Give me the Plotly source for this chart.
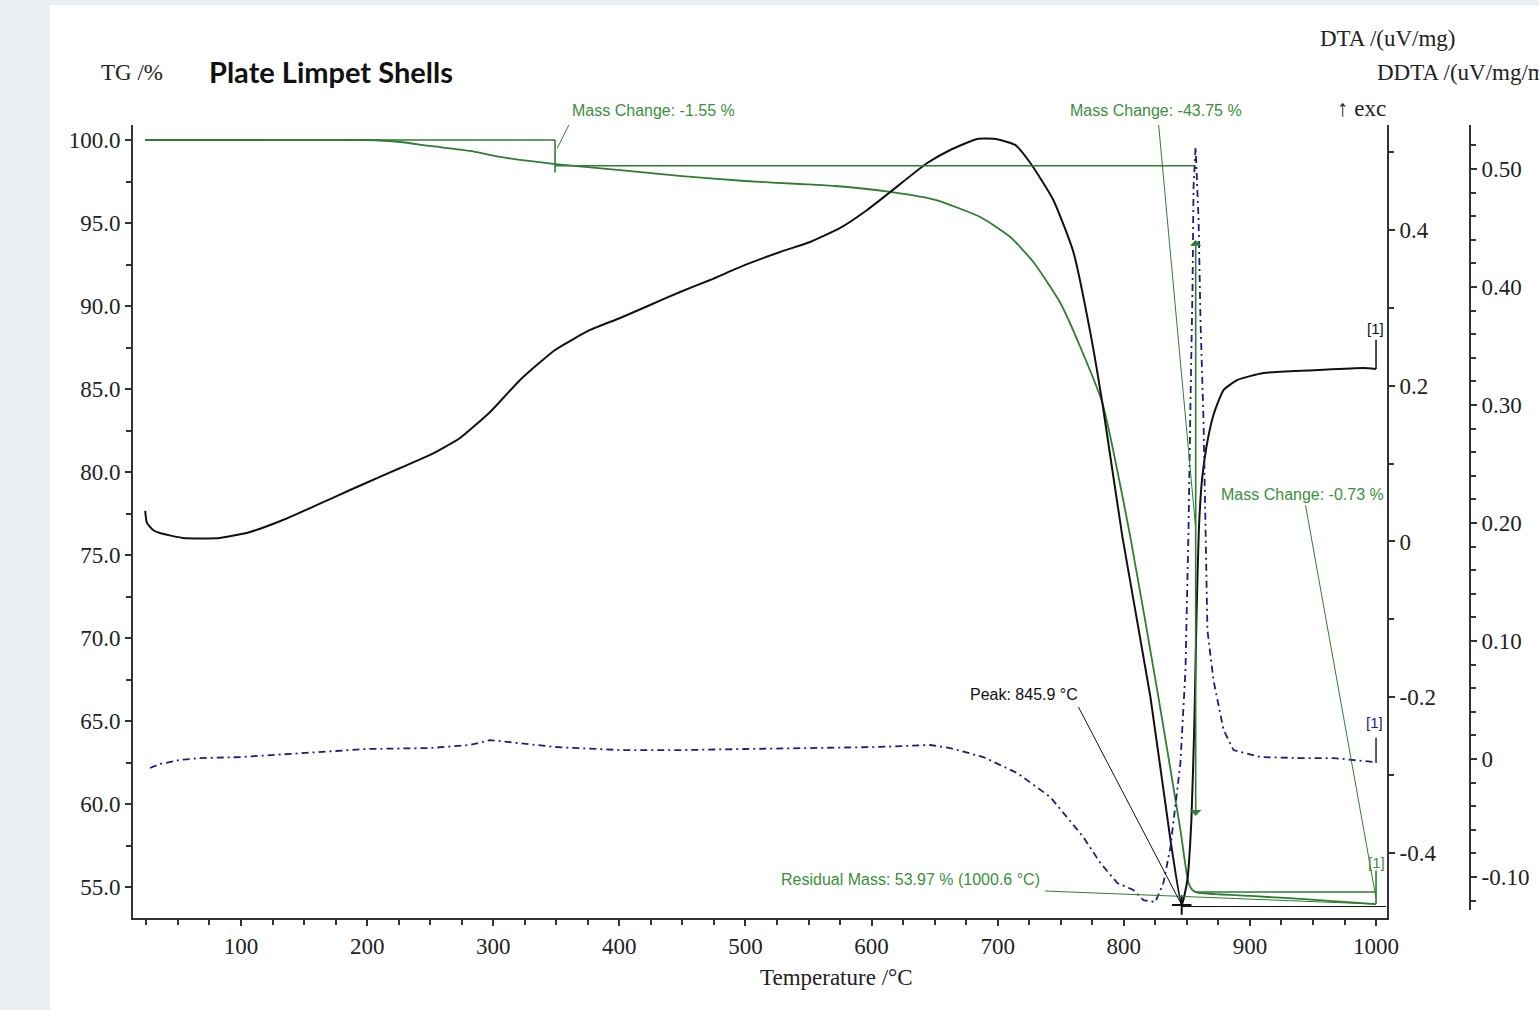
import plotly.graph_objects as go

# ---------------- data ----------------
tg_temp = [24.0, 100.0, 199.1, 226.2, 249.9, 281.6, 305.4, 349.0, 400.6, 449.8, 499.8,
           543.4, 571.2, 614.8, 650.5, 686.2, 710.0, 728.3, 749.7, 765.5, 783.0, 805.2,
           827.4, 844.9, 851.3, 854.5, 858.4, 900.5, 940.2, 1000.0]
tg_mass = [100.0, 100.0, 100.0, 99.88, 99.64, 99.34, 98.98, 98.55, 98.19, 97.83, 97.53,
           97.35, 97.23, 96.87, 96.39, 95.36, 94.16, 92.65, 90.18, 87.53, 84.16, 76.08,
           66.45, 58.43, 55.24, 54.82, 54.66, 54.46, 54.28, 53.97]

dta_temp = [24.0, 25.4, 30.2, 35.7, 54.0, 83.3, 107.1, 133.3, 160.3, 186.5, 199.1, 226.2,
            249.9, 273.7, 297.5, 321.3, 349.0, 376.8, 400.6, 424.4, 448.2, 472.0, 499.8,
            527.5, 551.3, 575.1, 596.5, 614.8, 644.1, 662.4, 683.8, 698.1, 713.9, 725.9,
            744.1, 760.0, 773.5, 783.0, 798.9, 821.1, 837.0, 845.9, 850.4, 853.6, 856.0,
            857.6, 859.5, 862.0, 865.5, 871.1, 879.1, 890.2, 910.8, 953.7, 990.2, 1000.0]
dta_val = [0.0392, 0.0238, 0.0148, 0.0109, 0.0045, 0.0045, 0.0122, 0.0276, 0.0469, 0.0661,
           0.0751, 0.0944, 0.1111, 0.1329, 0.1663, 0.2074, 0.2459, 0.2716, 0.2870, 0.3037,
           0.3204, 0.3358, 0.3551, 0.3718, 0.3846, 0.4026, 0.4257, 0.4488, 0.4860, 0.5027,
           0.5168, 0.5168, 0.5092, 0.4860, 0.4385, 0.3718, 0.2678, 0.1778, 0.0058, -0.1997,
           -0.3833, -0.4668, -0.4347, -0.3576, -0.2292, -0.1008, 0.0148, 0.0790, 0.1213,
           0.1624, 0.1945, 0.2074, 0.2164, 0.2202, 0.2228, 0.2215]

ddta_temp = [27.8, 35.7, 51.6, 67.5, 100.0, 146.8, 199.1, 249.9, 281.6, 297.5, 313.4, 349.0,
             400.6, 448.2, 499.8, 543.4, 604.5, 646.6, 662.4, 688.6, 715.6, 741.7, 767.9,
             781.4, 794.9, 807.6, 815.5, 825.0, 831.4, 837.0, 844.9, 848.9, 851.3, 852.9,
             854.5, 855.3, 856.9, 859.3, 860.8, 863.2, 864.8, 866.3, 871.1, 879.1, 887.0,
             908.4, 940.2, 966.4, 998.1, 1000.0]
ddta_val = [-0.0076, -0.0042, -0.0008, 0.0008, 0.0017, 0.0051, 0.0085, 0.0093, 0.0119, 0.0161,
            0.0144, 0.0102, 0.0076, 0.0076, 0.0085, 0.0093, 0.0102, 0.0119, 0.0093, 0.0017,
            -0.0119, -0.0322, -0.0661, -0.0881, -0.1051, -0.1110, -0.1195, -0.1212, -0.1051,
            -0.0746, -0.0034, 0.0754, 0.1941, 0.3042, 0.4000, 0.4847, 0.5186, 0.4568, 0.3720,
            0.2873, 0.1881, 0.1093, 0.0669, 0.0246, 0.0076, 0.0017, 0.0008, 0.0008, -0.0025,
            -0.0034]

x_ticks = [100, 200, 300, 400, 500, 600, 700, 800, 900, 1000]
tg_ticks = [55.0, 60.0, 65.0, 70.0, 75.0, 80.0, 85.0, 90.0, 95.0, 100.0]
dta_ticks = [-0.4, -0.2, 0.0, 0.2, 0.4]
dta_ticktext = ["-0.4", "-0.2", "0", "0.2", "0.4"]
ddta_ticks = [-0.1, 0.0, 0.1, 0.2, 0.3, 0.4, 0.5]
ddta_ticktext = ["-0.10", "0", "0.10", "0.20", "0.30", "0.40", "0.50"]

# evaluation values
mass_changes = [-1.55, -43.75, -0.73]
step_temps = [349.0, 857.0, 1000.0]
start_temp = 24.0
residual_mass = 53.97
peak_temp = 845.9

# ---------------- layout geometry ----------------
W, H = 1539, 1010
ML, MR, MT, MB = 133, 69, 125, 92
PW = W - ML - MR
PH = H - MT - MB


def px(x):
    return (x - ML) / PW


def py(y):
    return (MT + PH - y) / PH


GREEN = "#2f7d32"
GREEN_TXT = "#3a8f3a"
BLUE = "#1c1c86"
AX = "#333333"
SERIF = "Liberation Serif, Times New Roman, serif"
SANS = "Liberation Sans, Arial, sans-serif"

fig = go.Figure()

fig.add_trace(go.Scatter(x=tg_temp, y=tg_mass, mode="lines", yaxis="y",
                         line=dict(color=GREEN, width=1.8, shape="spline", smoothing=0.5),
                         hoverinfo="skip"))
fig.add_trace(go.Scatter(x=dta_temp, y=dta_val, mode="lines", yaxis="y2",
                         line=dict(color="#111111", width=2, shape="spline", smoothing=0.5),
                         hoverinfo="skip"))
fig.add_trace(go.Scatter(x=ddta_temp, y=ddta_val, mode="lines", yaxis="y3",
                         line=dict(color=BLUE, width=1.8, dash="7px,4px,2px,4px"),
                         hoverinfo="skip"))
peak_val = dta_val[dta_temp.index(peak_temp)]
fig.add_trace(go.Scatter(x=[peak_temp], y=[peak_val], mode="markers", yaxis="y2",
                         marker=dict(symbol="cross-thin", size=14,
                                     line=dict(color="#111111", width=2)),
                         hoverinfo="skip"))

# mass change step levels
lvl0 = 100.0
lvl1 = lvl0 + mass_changes[0]
lvl2 = lvl1 + mass_changes[1]
lvl3 = lvl2 + mass_changes[2]

shapes = []
# white page area over light background
shapes.append(dict(type="rect", xref="paper", yref="paper", x0=px(50), x1=px(1545),
                   y0=py(1015), y1=py(5), fillcolor="white", line=dict(width=0),
                   layer="below"))


def seg(x0, y0, x1, y1, yref="y", color=GREEN, width=1.6):
    shapes.append(dict(type="line", xref="x", yref=yref, x0=x0, y0=y0, x1=x1, y1=y1,
                       line=dict(color=color, width=width)))


seg(start_temp, lvl0, step_temps[0], lvl0)
seg(step_temps[0], lvl0, step_temps[0], lvl1 - 0.4)
seg(step_temps[0], lvl1, step_temps[1], lvl1)
seg(step_temps[1], lvl2, step_temps[2], lvl2)
seg(step_temps[2], 56.0, step_temps[2], lvl3)
# leader lines
seg(362.6, 101.3, 350.7, 99.5, width=1)
seg(827.4, 101.1, step_temps[1], 76.6, width=1)
seg(944.1, 78.0, step_temps[2], (lvl2 + lvl3) / 2, width=1)
seg(737.5, 54.76, step_temps[2], residual_mass, width=1)
seg(764.0, -0.2125, peak_temp, peak_val, yref="y2", color="#111111", width=1)
seg(peak_temp, peak_val - 0.002, 1008, peak_val - 0.002, yref="y2", color="#111111", width=1)
# end markers [1]
seg(1000, dta_val[-1], 1000, 0.259, yref="y2", color="#111111", width=1.5)
seg(1000, ddta_val[-1], 1000, 0.018, yref="y3", color=BLUE, width=1.5)
# DDTA axis line
shapes.append(dict(type="line", xref="paper", yref="y3", x0=1.0, x1=1.0, y0=-0.128,
                   y1=0.5373, line=dict(color=AX, width=2)))

ann = []


def text(x, y, s, size=23, family=SERIF, color="#222222", xanchor="left", weight=None):
    f = dict(size=size, family=family, color=color)
    if weight:
        f["weight"] = weight
    ann.append(dict(x=px(x), y=py(y), xref="paper", yref="paper", text=s, showarrow=False,
                    xanchor=xanchor, yanchor="middle", font=f))


text(132, 73, "TG /%", xanchor="center")
text(207, 72, "Plate Limpet Shells", size=29, family="Lato, Open Sans, sans-serif",
     color="#111111", weight="bold")
text(1318, 38, "DTA /(uV/mg)")
text(1375, 73, "DDTA /(uV/mg/min)")
text(1335, 108, "↑ exc")
text(836, 978, "Temperature /°C", xanchor="center")
text(570, 111, "Mass Change: -1.55 %", size=16, family=SANS, color=GREEN_TXT)
text(1068, 111, "Mass Change: -43.75 %", size=16, family=SANS, color=GREEN_TXT)
text(1219, 495, "Mass Change: -0.73 %", size=16, family=SANS, color=GREEN_TXT)
text(779, 879, "Residual Mass: 53.97 % (1000.6 °C)", size=16, family=SANS, color=GREEN_TXT)
text(968, 694, "Peak: 845.9 °C", size=16, family=SANS, color="#111111")
text(1375, 328, "[1]", size=15, family=SANS, color="#111111", xanchor="center")
text(1374, 722, "[1]", size=15, family=SANS, color=BLUE, xanchor="center")
text(1376, 862, "[1]", size=15, family=SANS, color=GREEN_TXT, xanchor="center")

# double arrow of the main mass change
ann.append(dict(x=step_temps[1], y=93.98, ax=step_temps[1], ay=59.2, xref="x", yref="y",
                axref="x", ayref="y", text="", showarrow=True, arrowhead=1,
                arrowside="end+start", arrowsize=1.2, arrowwidth=1.6, arrowcolor=GREEN))

x_minor = [v for v in range(25, 1001, 25) if v % 100 != 0]
tg_minor = [57.5 + 5 * i for i in range(9)]
dta_minor = [-0.3, -0.1, 0.1, 0.3, 0.5]
ddta_minor = [round(-0.12 + 0.02 * i, 2) for i in range(33)]
ddta_minor = [v for v in ddta_minor if abs(round(v * 10) - v * 10) > 1e-6]

tickfont = dict(family=SERIF, size=23, color="#222222")

fig.update_layout(
    width=W, height=H,
    margin=dict(l=ML, r=MR, t=MT, b=MB, autoexpand=False),
    paper_bgcolor="#ebeff4",
    plot_bgcolor="white",
    showlegend=False,
    shapes=shapes,
    annotations=ann,
    xaxis=dict(domain=[0, (1387 - ML) / PW], range=[14.35, 1008.7],
               tickmode="array", tickvals=x_ticks, ticktext=[str(v) for v in x_ticks],
               ticks="outside", ticklen=6, tickwidth=1.5, tickcolor=AX,
               showline=True, linecolor=AX, linewidth=2, showgrid=False, zeroline=False,
               tickfont=tickfont,
               minor=dict(tickmode="array", tickvals=x_minor, ticks="outside", ticklen=5,
                          tickwidth=1.5, tickcolor=AX, showgrid=False)),
    yaxis=dict(range=[53.133, 100.904], tickmode="array", tickvals=tg_ticks,
               ticktext=[f"{v:.1f}" for v in tg_ticks],
               ticks="outside", ticklen=6, tickwidth=1.5, tickcolor=AX,
               showline=True, linecolor=AX, linewidth=2, showgrid=False, zeroline=False,
               tickfont=tickfont,
               minor=dict(tickmode="array", tickvals=tg_minor, ticks="outside", ticklen=5,
                          tickwidth=1.5, tickcolor=AX, showgrid=False)),
    yaxis2=dict(overlaying="y", side="right", anchor="x", range=[-0.4835, 0.5348],
                tickmode="array", tickvals=dta_ticks, ticktext=dta_ticktext,
                ticks="outside", ticklen=6, tickwidth=1.5, tickcolor=AX,
                showline=True, linecolor=AX, linewidth=2, showgrid=False, zeroline=False,
                tickfont=tickfont,
                minor=dict(tickmode="array", tickvals=dta_minor, ticks="outside", ticklen=5,
                           tickwidth=1.5, tickcolor=AX, showgrid=False)),
    yaxis3=dict(overlaying="y", side="right", anchor="free", position=1.0,
                range=[-0.1347, 0.5373],
                tickmode="array", tickvals=ddta_ticks, ticktext=ddta_ticktext,
                ticks="outside", ticklen=6, tickwidth=1.5, tickcolor=AX,
                showline=False, showgrid=False, zeroline=False, tickfont=tickfont,
                minor=dict(tickmode="array", tickvals=ddta_minor, ticks="outside", ticklen=5,
                           tickwidth=1.5, tickcolor=AX, showgrid=False)),
)

fig.write_html("out.html", config={"displayModeBar": False},
               post_script="document.body.style.margin='0';document.body.style.overflow='hidden';")
